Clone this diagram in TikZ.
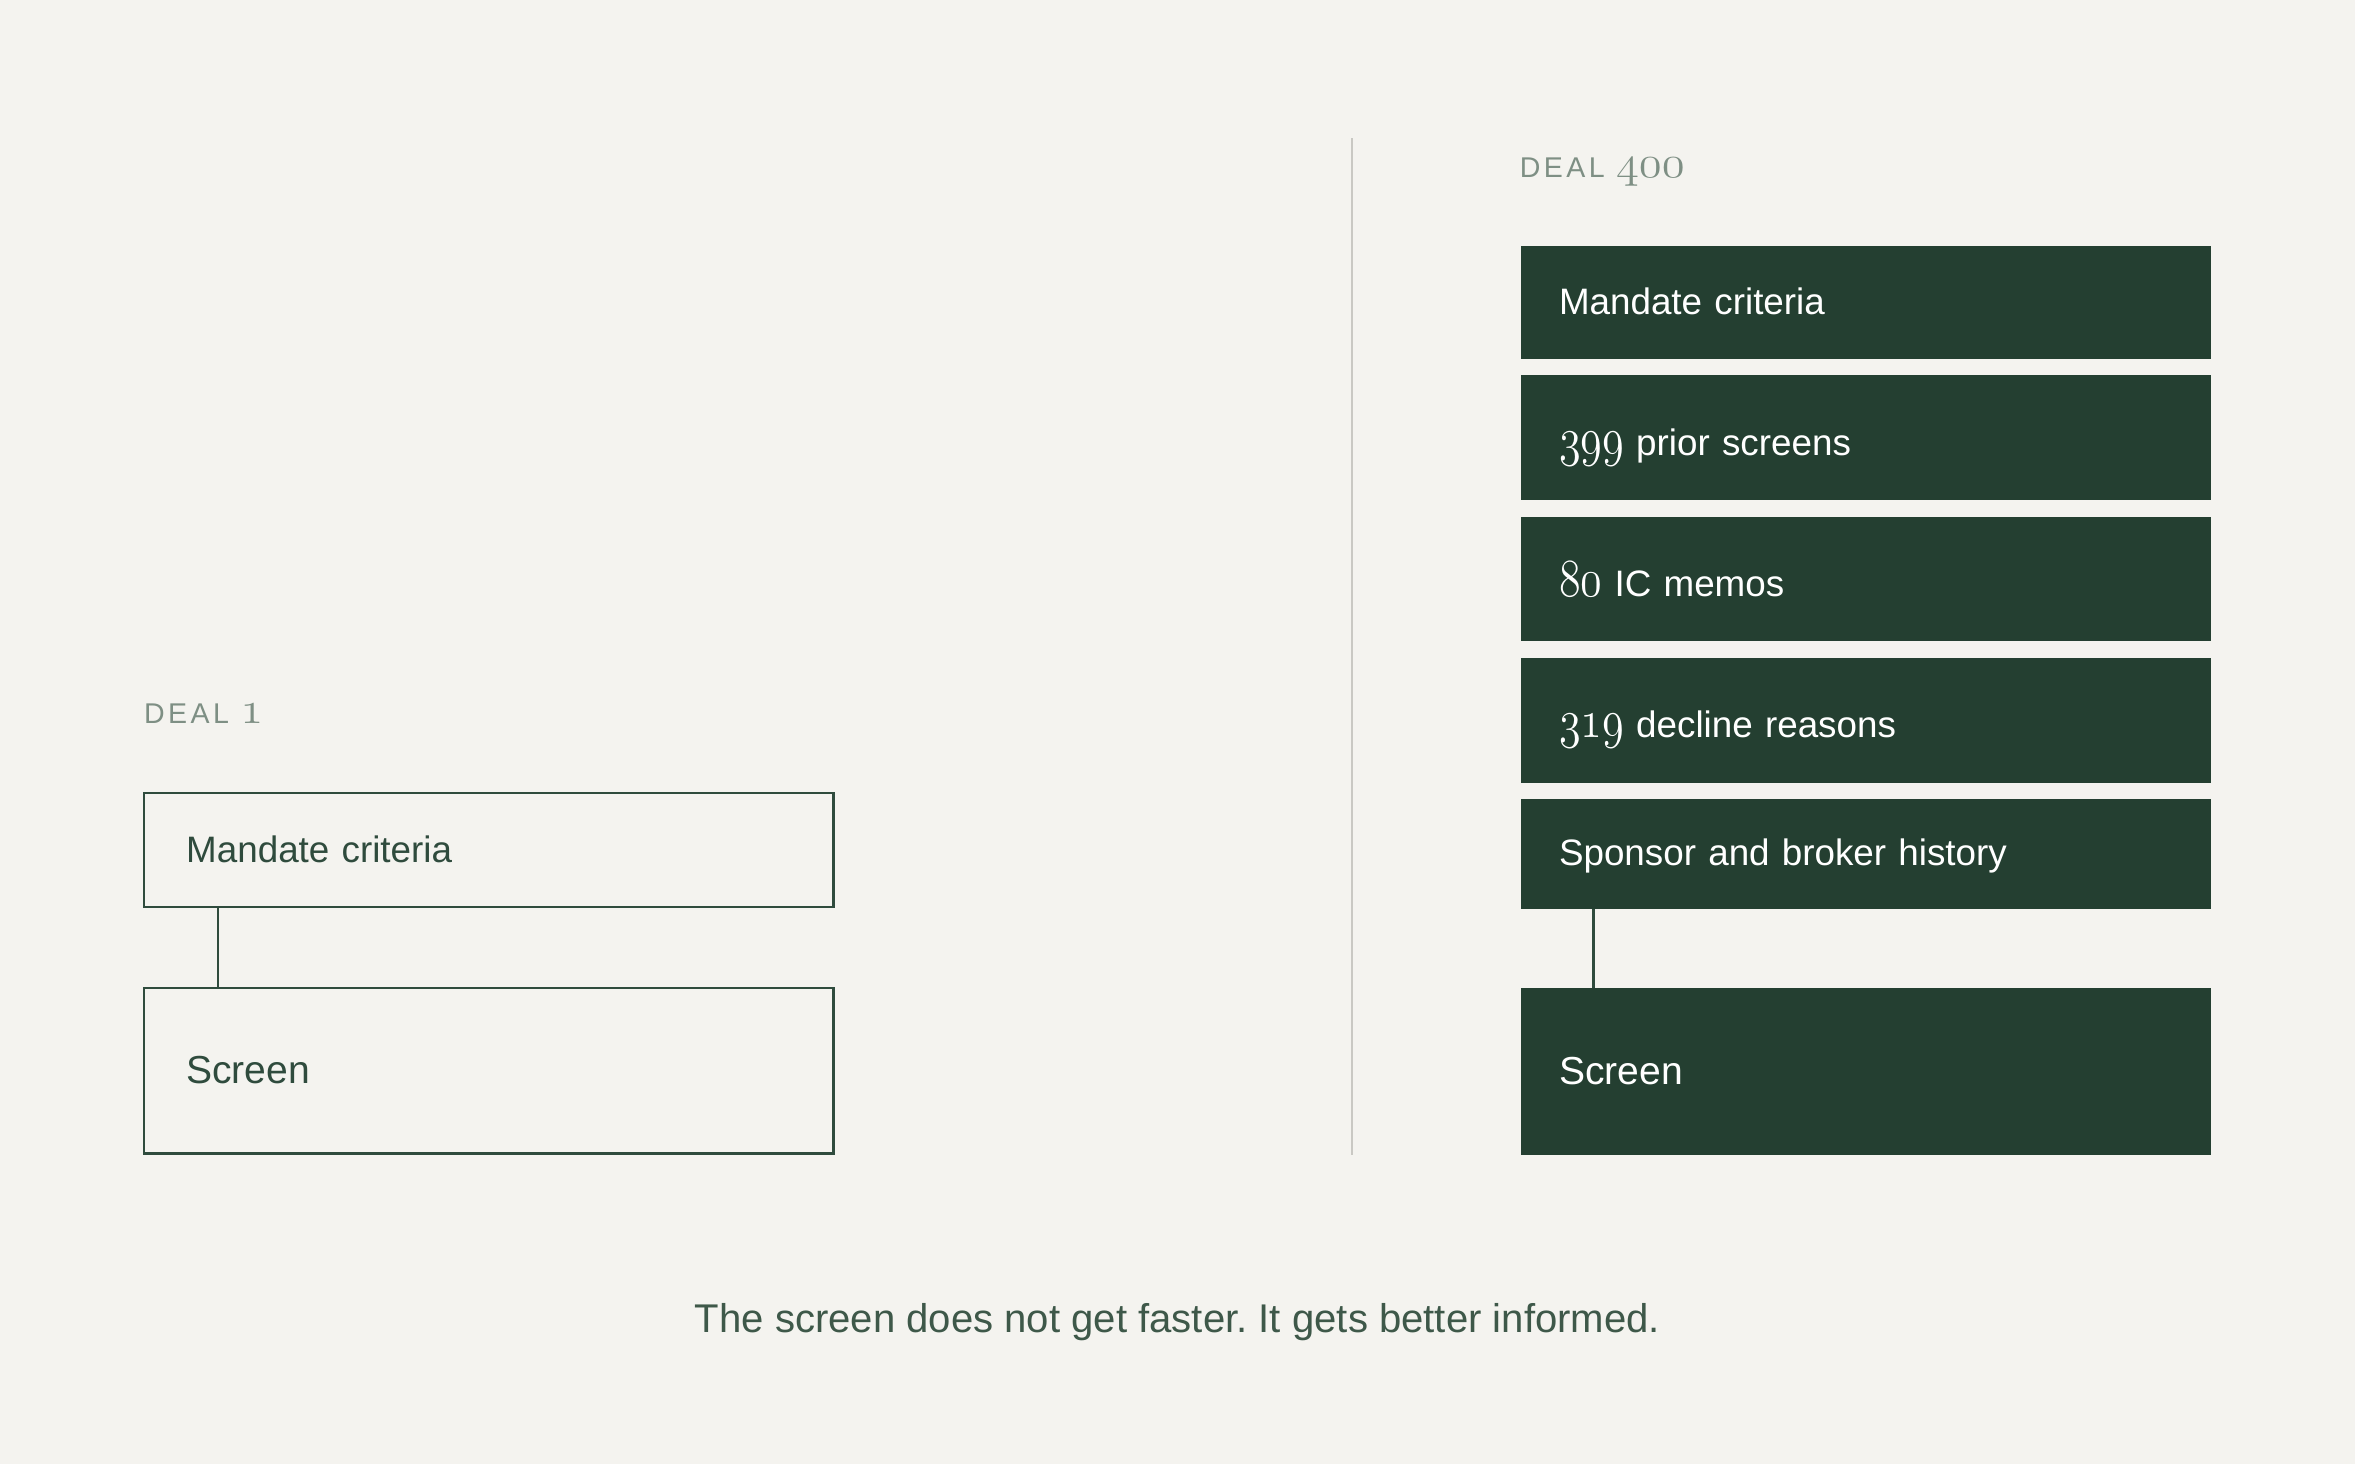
\documentclass[tikz,border=0pt]{standalone}
\usepackage{graphicx}
\usepackage{fontspec}
\setmainfont{Liberation Sans}
\newfontfamily\trackedfont{Liberation Sans}[LetterSpace=12]
\usetikzlibrary{positioning}
\definecolor{paper}{HTML}{F4F3EF}
\definecolor{pine}{HTML}{243F31}
\definecolor{pineline}{HTML}{2F4B3D}
\definecolor{sage}{HTML}{7E8F84}
\definecolor{divider}{HTML}{C9C8C3}
\definecolor{captiongreen}{HTML}{3E5849}
% old style figures, set at 20.74pt and scaled
\newcommand{\osnum}[1]{{\fontencoding{OML}\fontfamily{cmm}\fontseries{m}\fontshape{it}\fontsize{20.74}{22}\selectfont #1}}
\newcommand{\countnum}[1]{\scalebox{1.42}[1.72]{\osnum{#1}}}
\newcommand{\dealnum}[1]{\scalebox{1.5}[1.45]{\osnum{#1}}}
\tikzset{x=1pt, y=-1pt,
  node distance=11pt, % gap between the stacked layers
  every node/.style={inner sep=0pt, outer sep=0pt},
  layer/.style={ % a box with its text at the left
    text width=403pt, inner xsep=28pt, align=left,
    minimum height=76pt, text height=16pt, text depth=0pt,
    font=\fontsize{24.5}{28}\selectfont},
  openlayer/.style={layer, draw=pineline, line width=1.6pt, text=pineline},
  fulllayer/.style={layer, fill=pine, text=white, text width=409pt, inner xsep=25pt},
  countlayer/.style={fulllayer, minimum height=83pt, text height=23.5pt},
  screenbox/.style={minimum height=110pt, text height=17pt, font=\fontsize{26}{30}\selectfont},
  deallabel/.style={anchor=base west, text=sage,
    font=\fontsize{19}{21}\selectfont\trackedfont},
  link/.style={draw=pineline, line width=1.6pt}}

\begin{document}
\frenchspacing
\begin{tikzpicture}
  \fill[paper] (0,0) rectangle (1568,975);
  \useasboundingbox (0,0) rectangle (1568,975);

  % deal 1
  \node [deallabel] (ldeal) at (96,482) {DEAL \dealnum{1}};
  \node [openlayer, anchor=north west] (lmandate) at (96,528) {Mandate criteria};
  \node [openlayer, screenbox, below=54pt of lmandate] (lscreen) {Screen};
  \draw [link] ([xshift=49pt]lmandate.south west) -- ([xshift=49pt]lscreen.north west);

  % divider
  \draw [divider, line width=1.5pt] (900,92) -- (900,769);

  % deal 400
  \node [deallabel] (rdeal) at (1012,118) {DEAL \dealnum{400}};
  \node [fulllayer, anchor=north west, minimum height=75pt] (rmandate) at (1013,164) {Mandate criteria};
  \node [countlayer, below=of rmandate] (rprior) {\countnum{399} prior screens};
  \node [countlayer, below=of rprior] (rmemos) {\countnum{80} IC memos};
  \node [countlayer, below=of rmemos] (rdecline) {\countnum{319} decline reasons};
  \node [fulllayer, minimum height=73pt, below=of rdecline] (rsponsor) {Sponsor and broker history};
  \node [fulllayer, screenbox, minimum height=111pt, below=53pt of rsponsor] (rscreen) {Screen};
  \draw [link] ([xshift=48pt]rsponsor.south west) -- ([xshift=48pt]rscreen.north west);

  \node [anchor=base, text=captiongreen, font=\fontsize{26.7}{30}\selectfont] (caption) at (784,887)
    {The screen does not get faster. It gets better informed.};
\end{tikzpicture}
\end{document}
